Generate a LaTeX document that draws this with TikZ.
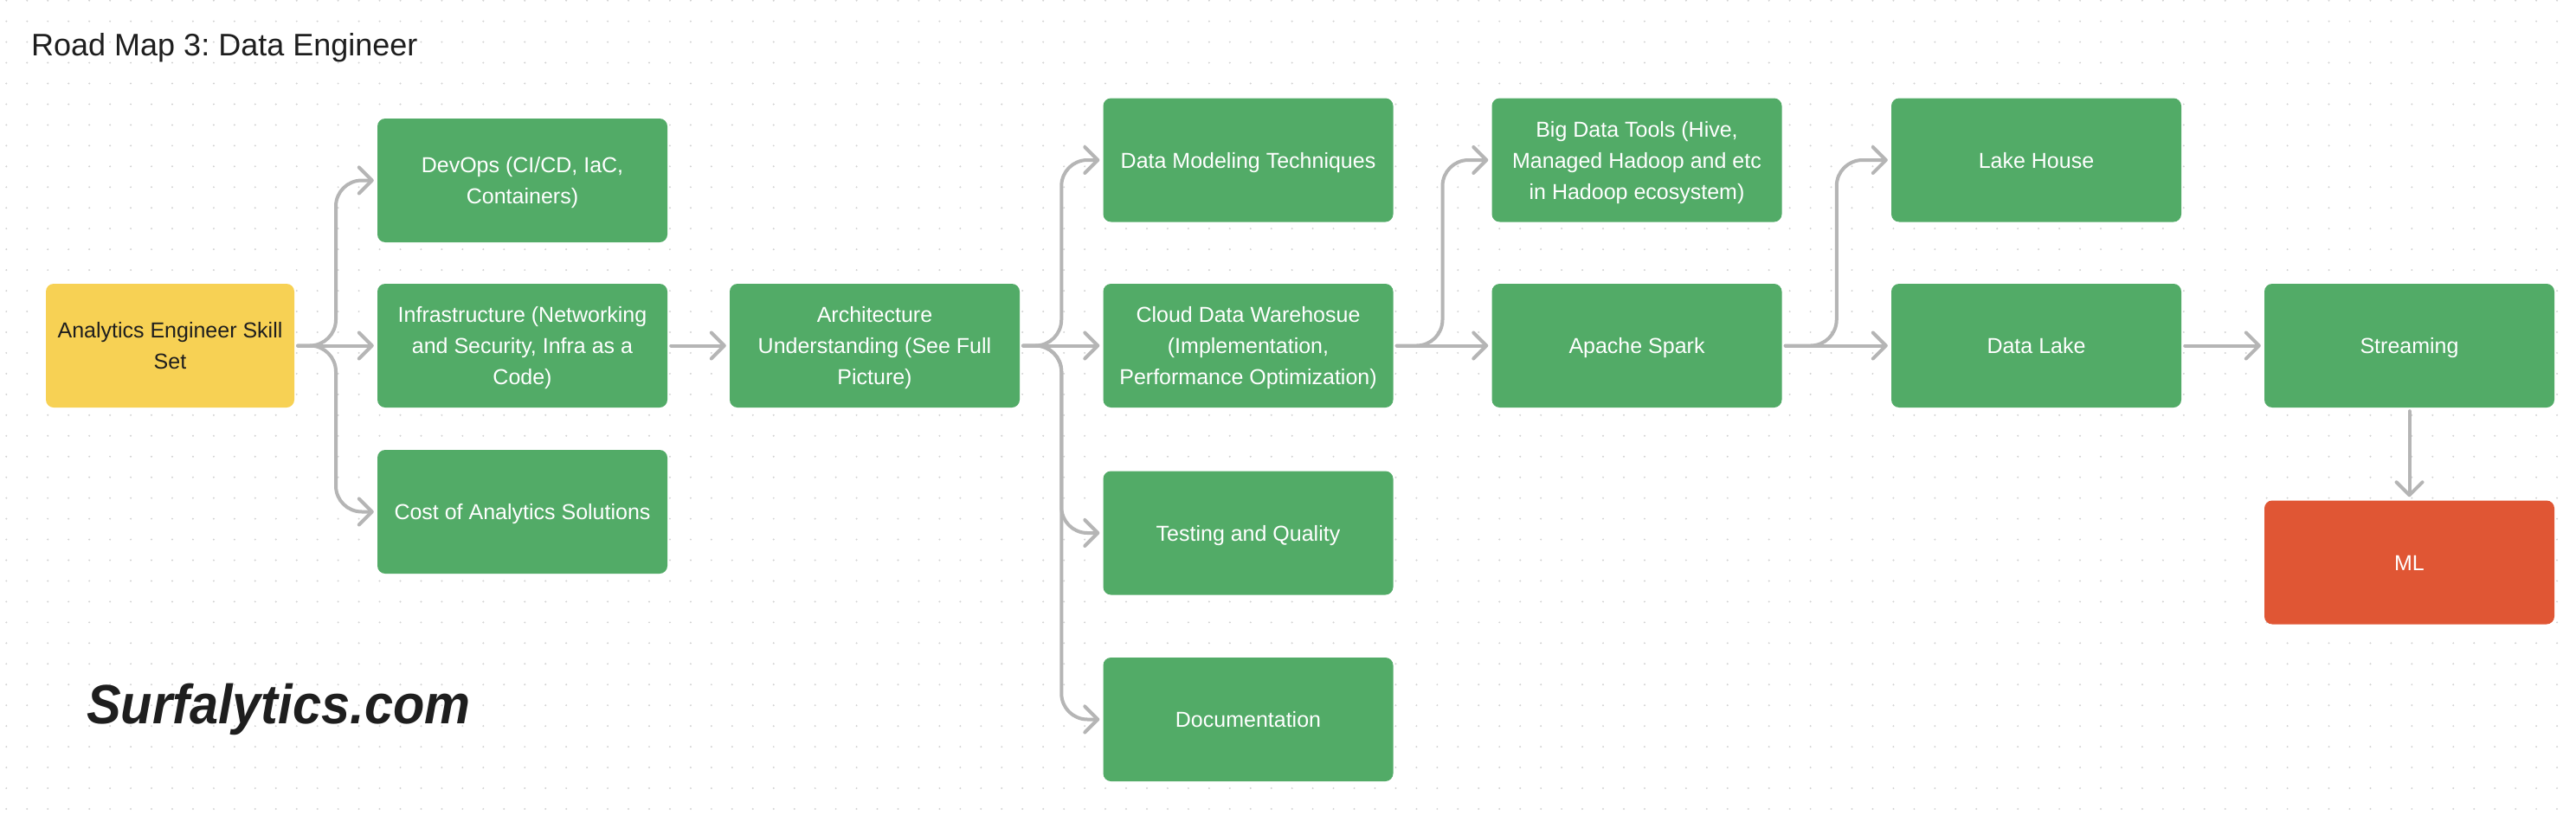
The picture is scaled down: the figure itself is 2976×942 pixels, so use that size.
\documentclass[tikz,border=0pt]{standalone}
\usepackage{fontspec}
\usepackage{graphicx}
\setmainfont{Liberation Sans}
\frenchspacing
\usetikzlibrary{arrows.meta,calc}
\definecolor{boxgreen}{HTML}{52AB67}
\definecolor{boxyellow}{HTML}{F7D154}
\definecolor{boxred}{HTML}{E05634}
\definecolor{conncol}{HTML}{B5B5B5}
\definecolor{dotcol}{HTML}{D2D2D2}
\definecolor{inkcol}{HTML}{1E1E1E}
\newcommand\TopStrut{\rule{0pt}{24pt}}
\newcommand\BotStrut{\rule[-6pt]{0pt}{6pt}}
\tikzset{
  card/.style={rectangle, rounded corners=9pt, minimum width=335pt, minimum height=143pt,
    inner sep=0pt, fill=boxgreen, text=white, align=center,
    font=\fontsize{25}{36}\selectfont},
  yellowcard/.style={card, fill=boxyellow, text=inkcol, minimum width=287pt},
  redcard/.style={card, fill=boxred},
  conn/.style={draw=conncol, line width=4pt, rounded corners=30pt, line cap=round, line join=round,
    shorten <=4pt, shorten >=4pt,
    -{Straight Barb[length=15pt,width=30pt,round]}},
}
\begin{document}
\begin{tikzpicture}[x=1pt,y=-1pt]
\useasboundingbox (0,0) rectangle (2976,942);
\fill[white] (0,0) rectangle (2976,942);
% dot grid
\foreach \i in {0,...,124}{
  \foreach \j in {0,...,39}{
    \fill[dotcol] (7.33+\i*23.957, 0.67+\j*23.957) circle (1.1);
  }
}
% title and brand
\node[anchor=base west, inner sep=0pt, text=inkcol, font=\fontsize{36}{40}\selectfont] (title) at (36,64.3) {Road Map 3: Data Engineer};
\node[anchor=base west, inner sep=0pt, text=inkcol, font=\fontsize{64}{64}\selectfont\bfseries\itshape] (brand) at (100,836) {\scalebox{0.93}[1]{Surfalytics.com}};
% boxes
\node[yellowcard] (ae) at (196.5,399.5) {\TopStrut Analytics Engineer Skill\\Set\BotStrut};
\node[card] (devops) at (603.5,208.5) {\TopStrut DevOps (CI/CD, IaC,\\Containers)\BotStrut};
\node[card] (infra) at (603.5,399.5) {\TopStrut Infrastructure (Networking\\and Security, Infra as a\\Code)\BotStrut};
\node[card] (cost) at (603.5,591.5) {\TopStrut Cost of Analytics Solutions\BotStrut};
\node[card] (arch) at (1010.5,399.5) {\TopStrut Architecture\\Understanding (See Full\\Picture)\BotStrut};
\node[card] (dm) at (1442,185) {\TopStrut Data Modeling Techniques\BotStrut};
\node[card] (cdw) at (1442,399.5) {\TopStrut Cloud Data Warehosue\\(Implementation,\\Performance Optimization)\BotStrut};
\node[card] (test) at (1442,616) {\TopStrut Testing and Quality\BotStrut};
\node[card] (doc) at (1442,831.5) {\TopStrut Documentation\BotStrut};
\node[card] (bigdata) at (1891,185) {\TopStrut Big Data Tools (Hive,\\Managed Hadoop and etc\\in Hadoop ecosystem)\BotStrut};
\node[card] (spark) at (1891,399.5) {\TopStrut Apache Spark\BotStrut};
\node[card] (lakehouse) at (2352.5,185) {\TopStrut Lake House\BotStrut};
\node[card] (datalake) at (2352.5,399.5) {\TopStrut Data Lake\BotStrut};
\node[card] (streaming) at (2783.5,399.5) {\TopStrut Streaming\BotStrut};
\node[redcard] (ml) at (2783.5,650) {\TopStrut ML\BotStrut};
% junctions
\coordinate (j1) at ($(ae.east)!0.5!(infra.west)$);
\coordinate (j2) at ($(arch.east)!0.5!(cdw.west)$);
\coordinate (j3) at ($(cdw.east)!0.5!(spark.west)$);
\coordinate (j4) at ($(spark.east)!0.5!(datalake.west)$);
% connectors
\draw[conn] (ae.east) -- (j1) |- (devops.west);
\draw[conn] (ae.east) -- (j1) |- (cost.west);
\draw[conn] (ae.east) -- (infra.west);
\draw[conn] (infra.east) -- (arch.west);
\draw[conn] (arch.east) -- (j2) |- (dm.west);
\draw[conn] (arch.east) -- (j2) |- (test.west);
\draw[conn] (arch.east) -- (j2) |- (doc.west);
\draw[conn] (arch.east) -- (cdw.west);
\draw[conn] (cdw.east) -- (j3) |- (bigdata.west);
\draw[conn] (cdw.east) -- (spark.west);
\draw[conn] (spark.east) -- (j4) |- (lakehouse.west);
\draw[conn] (spark.east) -- (datalake.west);
\draw[conn] (datalake.east) -- (streaming.west);
\draw[conn] (streaming.south) -- (ml.north);
\end{tikzpicture}
\end{document}
